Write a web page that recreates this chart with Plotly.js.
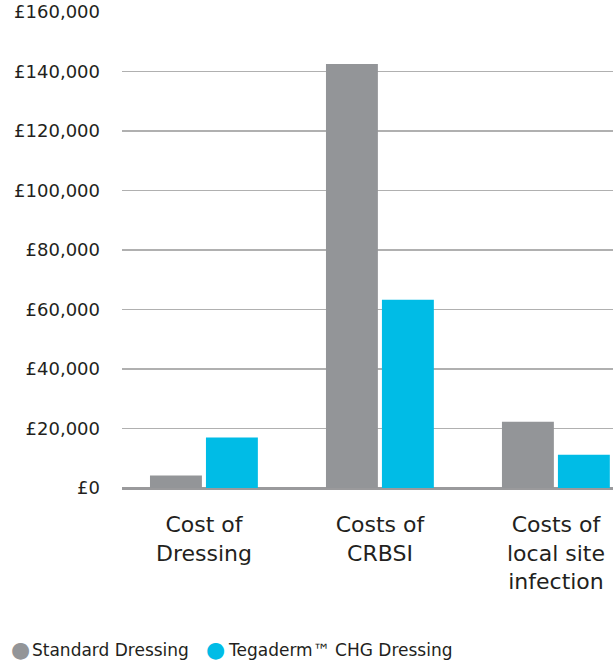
<!DOCTYPE html>
<html>
<head>
<meta charset="utf-8">
<script src="https://cdn.plot.ly/plotly-3.0.1.min.js"></script>
<style>html,body{margin:0;padding:0;background:#fff;}#chart{width:613px;height:662px;}</style>
</head>
<body>
<div id="chart"></div>
<script>
// Data
var categories = ["Cost of<br>Dressing", "Costs of<br>CRBSI", "Costs of<br>local site<br>infection"];
var seriesNames = ["Standard Dressing", "Tegaderm\u2122 CHG Dressing"];
var standardValues = [4200, 142500, 22300];
var tegadermValues = [17000, 63300, 11200];
var yTickVals = [0, 20000, 40000, 60000, 80000, 100000, 120000, 140000, 160000];
var yTickText = ["£0", "£20,000", "£40,000", "£60,000", "£80,000", "£100,000", "£120,000", "£140,000", "£160,000"];

var seriesColors = ["#939598", "#00bce6"];
var fontFam = "DejaVu Sans, Verdana, sans-serif";
var textColor = "#231f20";
var xIdx = categories.map(function(_, i){ return i; });

var traces = [
  {type: "bar", x: xIdx, y: standardValues, name: seriesNames[0], marker: {color: seriesColors[0]},
   width: 0.295, offset: -0.307, showlegend: false, hoverinfo: "y"},
  {type: "bar", x: xIdx, y: tegadermValues, name: seriesNames[1], marker: {color: seriesColors[1]},
   width: 0.295, offset: 0.011, showlegend: false, hoverinfo: "y"}
];

// legend drawn as annotations (circle glyph + name)
var legendY = -0.3400;
var legendDotX = [-0.2077, 0.1914];
var legendTextX = [-0.1874, 0.2128];
var annotations = [];
seriesNames.forEach(function(nm, i){
  annotations.push({xref: "paper", yref: "paper", x: legendDotX[i], y: legendY,
    xanchor: "center", yanchor: "middle", showarrow: false, text: "\u25CF",
    font: {family: fontFam, size: 22, color: seriesColors[i]}});
  annotations.push({xref: "paper", yref: "paper", x: legendTextX[i], y: legendY,
    xanchor: "left", yanchor: "middle", showarrow: false, text: nm,
    font: {family: fontFam, size: 17, color: textColor}});
});

var layout = {
  width: 613, height: 662,
  margin: {l: 122, r: 0, t: 12, b: 174},
  paper_bgcolor: "#fff", plot_bgcolor: "#fff",
  font: {family: fontFam, color: textColor},
  showlegend: false,
  annotations: annotations,
  xaxis: {range: [-0.466, 2.324], tickvals: xIdx, ticktext: categories,
          showgrid: false, zeroline: false, showline: false, ticks: "", automargin: false,
          tickfont: {size: 22, color: textColor}, ticklabelstandoff: 21, fixedrange: true},
  yaxis: {range: [0, 160000], tickvals: yTickVals, ticktext: yTickText, automargin: false,
          showgrid: true, gridcolor: "#b0b0b0", gridwidth: 1.3,
          zeroline: true, zerolinecolor: "#9a9a9c", zerolinewidth: 3,
          showline: false, ticks: "", tickfont: {size: 18, color: textColor},
          ticklabelstandoff: 21, fixedrange: true}
};

Plotly.newPlot("chart", traces, layout, {displayModeBar: false, staticPlot: true});
</script>
</body>
</html>
